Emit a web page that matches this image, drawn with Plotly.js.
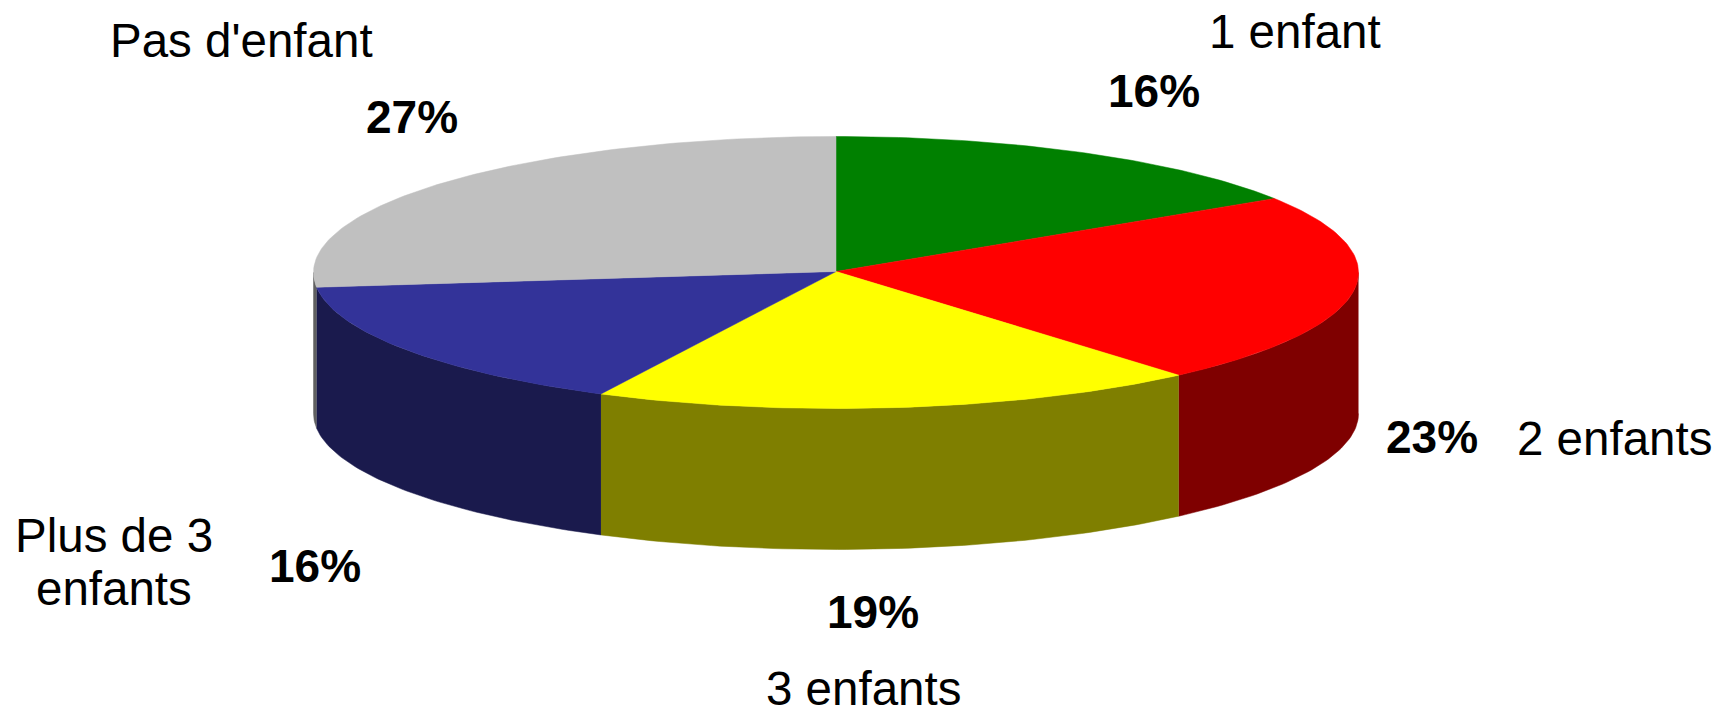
<!DOCTYPE html>
<html>
<head>
<meta charset="utf-8">
<script src="https://cdn.plot.ly/plotly-3.0.1.min.js"></script>
<style>html,body{margin:0;padding:0;background:#fff}#chart{width:1728px;height:710px}</style>
</head>
<body>
<div id="chart"></div>
<script>
const categories = ["1 enfant", "2 enfants", "3 enfants", "Plus de 3 enfants", "Pas d'enfant"];
const shares = [16, 23, 19, 16, 27];

const topColors = ["#008000", "#FF0000", "#FFFF00", "#333399", "#C0C0C0"];
const wallColors = ["#004000", "#7F0000", "#7F7F00", "#1A1A4D", "#606060"];

// Projection of the tilted disc onto the page (pixel-scaled axes)
const disc = {cx: 836, cy: 272.5, rx: 522.5, ry: 136, depth: 141};
const total = shares.reduce((a, b) => a + b, 0);
const px = t => disc.cx + disc.rx * Math.sin(t * Math.PI / 180);
const py = t => disc.cy - disc.ry * Math.cos(t * Math.PI / 180);
function arc(a, b) {
  const out = [];
  const n = Math.max(2, Math.ceil(Math.abs(b - a)));
  for (let i = 0; i <= n; i++) out.push(a + (b - a) * i / n);
  return out;
}

const walls = [], tops = [];
let start = 0;
categories.forEach((name, i) => {
  const end = start + shares[i] / total * 360;
  const a = Math.max(start, 90), b = Math.min(end, 270);
  if (b > a) {
    const fwd = arc(a, b), back = arc(b, a);
    walls.push({
      type: "scatter", mode: "lines", fill: "toself", name: name, showlegend: false, hoverinfo: "name",
      fillcolor: wallColors[i], line: {color: wallColors[i], width: 0.5},
      x: fwd.map(px).concat(back.map(px)),
      y: fwd.map(py).concat(back.map(t => py(t) + disc.depth))
    });
  }
  const ang = arc(start, end);
  tops.push({
    type: "scatter", mode: "lines", fill: "toself", name: name, showlegend: false, hoverinfo: "name",
    fillcolor: topColors[i], line: {color: topColors[i], width: 0.5},
    x: [disc.cx].concat(ang.map(px), [disc.cx]),
    y: [disc.cy - 1].concat(ang.map(py), [disc.cy - 1])
  });
  start = end;
});

const FONT = "Liberation Sans, Arial, sans-serif";
const labelSize = 47.5, pctSize = 46;
const note = (text, x, y, size, bold) => ({
  text: bold ? "<b>" + text + "</b>" : text, x: x, y: y, xref: "x", yref: "y",
  showarrow: false, xanchor: "center", yanchor: "middle",
  font: {family: FONT, size: size, color: "#000"}
});
const annotations = [
  note(categories[4], 241, 40, labelSize),
  note(shares[4] + "%", 412, 117, pctSize, true),
  note(categories[0], 1295, 31, labelSize),
  note(shares[0] + "%", 1154, 91, pctSize, true),
  note(shares[1] + "%", 1432, 437, pctSize, true),
  note(categories[1], 1614, 438, labelSize),
  note(shares[2] + "%", 873, 612, pctSize, true),
  note(categories[2], 863, 688, labelSize),
  note("Plus de 3", 114, 535, labelSize),
  note("enfants", 114, 588, labelSize),
  note(shares[3] + "%", 315, 566, pctSize, true)
];

Plotly.newPlot("chart", walls.concat(tops), {
  width: 1728, height: 710,
  margin: {l: 0, r: 0, t: 0, b: 0},
  paper_bgcolor: "#fff", plot_bgcolor: "#fff",
  xaxis: {range: [0, 1728], visible: false, fixedrange: true},
  yaxis: {range: [710, 0], visible: false, fixedrange: true},
  showlegend: false,
  annotations: annotations
}, {displayModeBar: false, staticPlot: true});
</script>
</body>
</html>
